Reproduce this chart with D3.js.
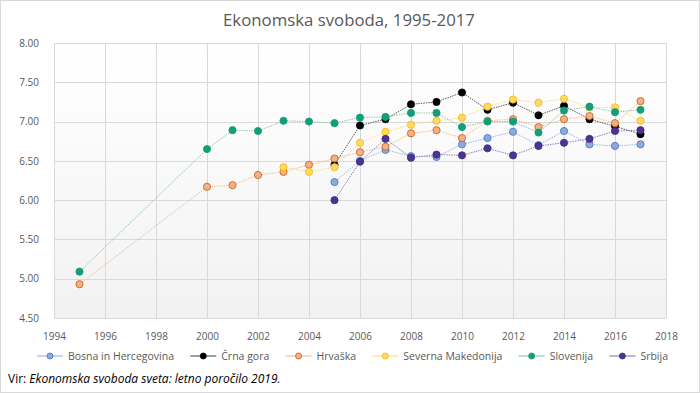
<!DOCTYPE html>
<html>
<head>
<meta charset="utf-8">
<script src="https://cdn.jsdelivr.net/npm/d3@7"></script>
<style>
  body { margin: 0; background: #fff; }
  svg { font-family: "Open Sans", "Noto Sans", sans-serif; }
</style>
</head>
<body>
<svg id="chart" width="700" height="393"></svg>
<script>
const years = d3.range(1995, 2018);
// null = no value that year
const bih = [null,null,null,null,null,null,null,null,null,null,6.23,6.50,6.64,6.56,6.55,6.71,6.79,6.87,6.70,6.88,6.71,6.69,6.71];
const crnaGora = [null,null,null,null,null,null,null,null,null,null,6.45,6.95,7.03,7.22,7.25,7.37,7.15,7.24,7.08,7.20,7.03,6.94,6.84];
const hrvaska = [4.93,null,null,null,null,6.17,6.19,6.32,6.36,6.45,6.53,6.61,6.68,6.85,6.89,6.79,7.01,7.03,6.93,7.03,7.07,6.98,7.26];
const makedonija = [null,null,null,null,null,null,null,null,6.42,6.36,6.42,6.73,6.87,6.96,7.01,7.05,7.19,7.28,7.24,7.29,7.18,7.18,7.01];
const slovenija = [5.09,null,null,null,null,6.65,6.89,6.88,7.01,7.00,6.98,7.05,7.06,7.11,7.11,6.93,7.00,7.00,6.86,7.14,7.19,7.12,7.15];
const srbija = [null,null,null,null,null,null,null,null,null,null,6.00,6.49,6.78,6.54,6.58,6.57,6.66,6.57,6.69,6.73,6.78,6.88,6.89];

const xTicks = d3.range(1994, 2019, 2);
const yTicks = [4.5, 5, 5.5, 6, 6.5, 7, 7.5, 8];

const series = [
  {name: "Bosna in Hercegovina", values: bih, fill: "#8eaadb", stroke: "#4472c4", line: "#8eaadb"},
  {name: "Črna gora", values: crnaGora, fill: "#000000", stroke: "#000000", line: "#404040"},
  {name: "Hrvaška", values: hrvaska, fill: "#f4b183", stroke: "#c55a11", line: "#f4b183"},
  {name: "Severna Makedonija", values: makedonija, fill: "#ffd966", stroke: "#f2b800", line: "#ffd966"},
  {name: "Slovenija", values: slovenija, fill: "#129e78", stroke: "#129e78", line: "#7fbf9f"},
  {name: "Srbija", values: srbija, fill: "#4c3592", stroke: "#3c2a80", line: "#7a6bb0"}
];

const svg = d3.select("#chart");
const W = 700, H = 393;
const m = {left: 54, right: 666, top: 43, bottom: 318};

svg.append("rect")
  .attr("x", 0.5).attr("y", 0.5)
  .attr("width", W - 1).attr("height", H - 1)
  .attr("fill", "#fff").attr("stroke", "#d9d9d9");

const x = d3.scaleLinear().domain([1994, 2018]).range([m.left, m.right]);
const y = d3.scaleLinear().domain([4.5, 8]).range([m.bottom, m.top]);

const defs = svg.append("defs");
const grad = defs.append("linearGradient").attr("id", "bg")
  .attr("x1", 0).attr("y1", 0).attr("x2", 0).attr("y2", 1);
grad.append("stop").attr("offset", "0%").attr("stop-color", "#ffffff");
grad.append("stop").attr("offset", "100%").attr("stop-color", "#f2f2f2");

svg.append("rect")
  .attr("x", m.left).attr("y", m.top)
  .attr("width", m.right - m.left).attr("height", m.bottom - m.top)
  .attr("fill", "url(#bg)");

// grid
const grid = svg.append("g").attr("stroke", "#d9d9d9").attr("stroke-width", 1);
grid.selectAll("line.h").data(yTicks).join("line")
  .attr("class", "h")
  .attr("x1", m.left).attr("x2", m.right)
  .attr("y1", d => Math.round(y(d)) + 0.5).attr("y2", d => Math.round(y(d)) + 0.5);
grid.selectAll("line.v").data(xTicks).join("line")
  .attr("class", "v")
  .attr("y1", m.top).attr("y2", m.bottom)
  .attr("x1", d => Math.round(x(d)) + 0.5).attr("x2", d => Math.round(x(d)) + 0.5);

// axes (labels only)
const yAxis = svg.append("g")
  .attr("transform", `translate(${m.left - 12},0)`)
  .call(d3.axisLeft(y).tickValues(yTicks).tickFormat(d3.format(".2f")).tickSize(0));
const xAxis = svg.append("g")
  .attr("transform", `translate(0,${m.bottom + 12})`)
  .call(d3.axisBottom(x).tickValues(xTicks).tickFormat(d3.format("d")).tickSize(0));
[yAxis, xAxis].forEach(a => {
  a.select(".domain").remove();
  a.selectAll("text")
    .attr("fill", "#595959")
    .style("font-size", "10px")
    .style("font-family", "'Open Sans', sans-serif");
});

// title
svg.append("text")
  .attr("x", 349).attr("y", 26)
  .attr("text-anchor", "middle")
  .attr("fill", "#595959")
  .style("font-size", "16.8px")
  .text("Ekonomska svoboda, 1995-2017");

// lines and points
const line = d3.line()
  .defined(d => d.v != null)
  .x(d => x(d.year))
  .y(d => y(d.v));

series.forEach(s => {
  const pts = years.map((yr, i) => ({year: yr, v: s.values[i]}));
  const valid = pts.filter(d => d.v != null);
  const g = svg.append("g");
  g.append("path")
    .datum(valid)
    .attr("d", line)
    .attr("fill", "none")
    .attr("stroke", s.line)
    .attr("stroke-width", 1)
    .attr("stroke-opacity", 0.85)
    .attr("stroke-dasharray", "1.5,1");
  g.selectAll("circle").data(valid).join("circle")
    .attr("cx", d => x(d.year))
    .attr("cy", d => y(d.v))
    .attr("r", 3.6)
    .attr("fill", s.fill)
    .attr("stroke", s.stroke)
    .attr("stroke-width", 0.8);
});

// legend
const legend = svg.append("g").attr("transform", "translate(0,356)");
const items = legend.selectAll("g").data(series).join("g");
items.append("line")
  .attr("x1", 0).attr("x2", 26).attr("y1", 0).attr("y2", 0)
  .attr("stroke", d => d.line).attr("stroke-width", 1);
items.append("circle")
  .attr("cx", 13).attr("cy", 0).attr("r", 3)
  .attr("fill", d => d.fill).attr("stroke", d => d.stroke).attr("stroke-width", 0.8);
items.append("text")
  .attr("x", 31).attr("y", 3.5)
  .attr("fill", "#595959")
  .style("font-size", "10.5px")
  .text(d => d.name);
let widths = [];
items.each(function() { widths.push(31 + this.querySelector("text").getComputedTextLength()); });
const legendLeft = 37, legendRight = 668;
const gap = (legendRight - legendLeft - d3.sum(widths)) / (widths.length - 1);
let cur = legendLeft;
items.attr("transform", (d, i) => { const t = `translate(${cur},0)`; cur += widths[i] + gap; return t; });

// source
const src = svg.append("text")
  .attr("x", 8).attr("y", 383)
  .attr("fill", "#000")
  .style("font-size", "12px");
src.append("tspan").text("Vir: ");
src.append("tspan").style("font-style", "italic").text("Ekonomska svoboda sveta: letno poročilo 2019.");
</script>
</body>
</html>
